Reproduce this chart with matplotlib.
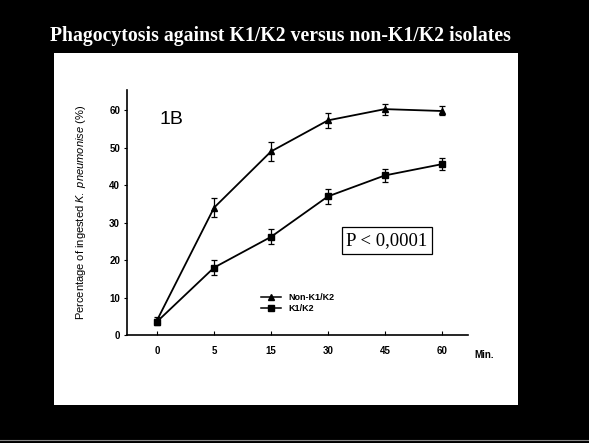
import matplotlib.pyplot as plt
import matplotlib.patches as patches
from matplotlib.lines import Line2D

# time points (minutes) and mean % ingested
times = ["0", "5", "15", "30", "45", "60"]
non_k1k2 = [4, 34, 49, 57.3, 60.3, 59.8]
non_k1k2_err = [0.8, 2.5, 2.5, 2.0, 1.5, 1.2]
k1k2 = [3.6, 18, 26.2, 37, 42.6, 45.6]
k1k2_err = [0.8, 2.0, 2.0, 2.0, 1.7, 1.6]

plt.rcParams["font.family"] = ["Liberation Sans", "DejaVu Sans"]
plt.rcParams["mathtext.fontset"] = "custom"
plt.rcParams["mathtext.it"] = "Liberation Sans:italic"
plt.rcParams["mathtext.rm"] = "Liberation Sans"

fig = plt.figure(figsize=(5.89, 4.43), dpi=100)
fig.patch.set_facecolor("black")

# white slide panel
fig.patches.append(patches.Rectangle((0.0917, 0.0858), 0.7878, 0.7946,
                                     transform=fig.transFigure,
                                     facecolor="white", edgecolor="none", zorder=-5))
fig.add_artist(Line2D([0, 1], [0.006, 0.006], color="#888888", lw=0.8, zorder=-5))

fig.text(0.476, 0.918, "Phagocytosis against K1/K2 versus non-K1/K2 isolates",
         color="white", fontsize=14.2, fontweight="bold", family="Liberation Serif",
         ha="center", va="center")

ax = fig.add_axes([0.2156, 0.2438, 0.579, 0.553])
ax.set_facecolor("none")
x = list(range(len(times)))

ax.errorbar(x, non_k1k2, yerr=non_k1k2_err, color="black", lw=1.3,
            marker="^", ms=4.5, capsize=2.5, elinewidth=0.9, capthick=0.9)
ax.errorbar(x, k1k2, yerr=k1k2_err, color="black", lw=1.3,
            marker="s", ms=4.5, capsize=2.5, elinewidth=0.9, capthick=0.9)

ax.set_xlim(-0.53, 5.46)
ax.set_ylim(0, 65.4)
ax.set_xticks(x)
ax.set_xticklabels(times)
ax.set_yticks([0, 10, 20, 30, 40, 50, 60])
for s in ["top", "right"]:
    ax.spines[s].set_visible(False)
for s in ["left", "bottom"]:
    ax.spines[s].set_linewidth(1.2)
ax.tick_params(axis="x", direction="in", length=3, labelsize=7, pad=8)
ax.tick_params(axis="y", direction="out", length=2, labelsize=7, pad=3)
for lab in ax.get_xticklabels() + ax.get_yticklabels():
    lab.set_fontweight("bold")

ax.set_ylabel(r"Percentage of ingested $\it{K.\ pneumonise}$ (%)", fontsize=8)
ax.yaxis.set_label_coords(-0.115, 0.5)

ax.text(5.58, -0.08, "Min.", transform=ax.get_xaxis_transform(),
        fontsize=7, fontweight="bold", ha="left", va="center")

ax.text(0.13, 0.878, "1B", transform=ax.transAxes, fontsize=14, ha="center", va="center")

ax.text(0.762, 0.385, "P < 0,0001", transform=ax.transAxes, fontsize=13.5,
        family="Liberation Serif", ha="center", va="center",
        bbox=dict(boxstyle="square,pad=0.25", facecolor="white", edgecolor="black", lw=0.9))

handles = [Line2D([], [], color="black", lw=1.1, marker="^", ms=4),
           Line2D([], [], color="black", lw=1.1, marker="s", ms=4)]
leg = ax.legend(handles, ["Non-K1/K2", "K1/K2"], loc="center left",
                bbox_to_anchor=(0.37, 0.13), frameon=False,
                fontsize=6.5, handlelength=2.2, handletextpad=0.8, labelspacing=0.2)
for t in leg.get_texts():
    t.set_fontweight("bold")

fig.savefig("out.png", dpi=100, facecolor=fig.get_facecolor())
